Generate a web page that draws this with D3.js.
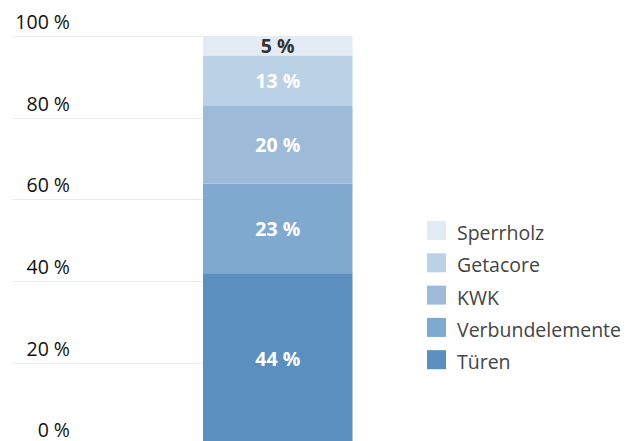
<!DOCTYPE html>
<html>
<head>
<meta charset="utf-8">
<script src="https://cdn.jsdelivr.net/npm/d3@7"></script>
<style>
  body { margin: 0; background: #fff; }
  svg { display: block; font-family: "Open Sans", "Noto Sans", sans-serif; }
</style>
</head>
<body>
<div id="chart"></div>
<script>
// data
var groups = ["Anteil"];
var categories = ["Türen", "Verbundelemente", "KWK", "Getacore", "Sperrholz"];
var values = [44, 23, 20, 13, 5];
var colors = ["#5a8fbf", "#80a9d0", "#9dbbd9", "#bbd1e5", "#e3ebf4"];
var ticks = [0, 0.2, 0.4, 0.6, 0.8, 1];

var width = 632, height = 441;

var svg = d3.select("#chart")
  .append("svg")
  .attr("width", width)
  .attr("height", height);

// one row for the single bar
var row = { group: groups[0] };
categories.forEach(function(c, i) { row[c] = values[i]; });

var stacked = d3.stack()
  .keys(categories)
  .offset(d3.stackOffsetExpand)([row]);

var y = d3.scaleLinear().domain([0, 1]).range([444.3, 36]);
var x = d3.scaleBand().domain(groups).range([203, 352.5]);
var color = d3.scaleOrdinal().domain(categories).range(colors);

// gridlines
svg.append("g")
  .selectAll("line")
  .data(ticks)
  .enter()
  .append("line")
  .attr("x1", 12)
  .attr("x2", 352)
  .attr("y1", function(d) { return Math.round(y(d)) + 0.5; })
  .attr("y2", function(d) { return Math.round(y(d)) + 0.5; })
  .style("stroke", "#ebebeb")
  .style("stroke-width", 1);

// axis labels
svg.append("g")
  .selectAll("text")
  .data(ticks)
  .enter()
  .append("text")
  .attr("x", 70)
  .attr("y", function(d) { return y(d) - 7; })
  .attr("text-anchor", "end")
  .style("font-size", "19.5px")
  .style("fill", "#111")
  .text(function(d) { return Math.round(d * 100) + " %"; });

// bar segments
var layers = svg.append("g")
  .selectAll("g")
  .data(stacked)
  .enter()
  .append("g")
  .attr("fill", function(d) { return color(d.key); });

layers.selectAll("rect")
  .data(function(d) { return d; })
  .enter()
  .append("rect")
  .attr("x", function(d) { return x(d.data.group); })
  .attr("width", x.bandwidth())
  .attr("y", function(d) { return y(d[1]); })
  .attr("height", function(d) { return y(d[0]) - y(d[1]); });

// value labels
stacked.forEach(function(s, i) {
  var d = s[0];
  svg.append("text")
    .attr("x", x(d.data.group) + x.bandwidth() / 2)
    .attr("y", (y(d[0]) + y(d[1])) / 2)
    .attr("dy", "0.36em")
    .attr("text-anchor", "middle")
    .style("font-size", "19.5px")
    .style("font-weight", "bold")
    .style("fill", s.key === "Sperrholz" ? "#333" : "#fff")
    .text(values[i] + " %");
});

// legend, top entry is the last category
var legend = svg.append("g")
  .selectAll("g")
  .data(categories.slice().reverse())
  .enter()
  .append("g")
  .attr("transform", function(d, i) { return "translate(427," + (221 + i * 32.3) + ")"; });

legend.append("rect")
  .attr("width", 19)
  .attr("height", 19)
  .attr("fill", function(d) { return color(d); });

legend.append("text")
  .attr("x", 30)
  .attr("y", 19)
  .style("font-size", "19.5px")
  .style("fill", "#444")
  .text(function(d) { return d; });
</script>
</body>
</html>
